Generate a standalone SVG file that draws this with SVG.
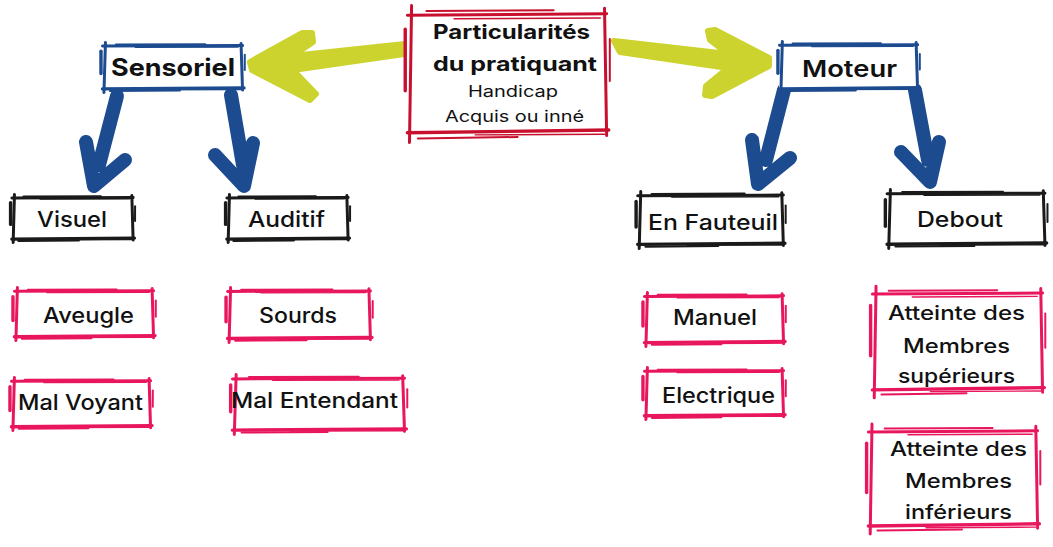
<svg xmlns="http://www.w3.org/2000/svg" xmlns:xlink="http://www.w3.org/1999/xlink" width="1053" height="547" viewBox="0 0 1053 547">
<style>
.sk path{fill:none;stroke:currentColor;stroke-linecap:round;vector-effect:non-scaling-stroke}
.w1{stroke-width:1.4}.w15{stroke-width:2}.w2{stroke-width:3}.w25{stroke-width:3.4}
.bg{fill:#fff}
.red{color:#c8102e}.blue{color:#1d4b8f}.blk{color:#1a1a1a}.pink{color:#e8175d}
text{font-family:Inter,"Noto Sans","Liberation Sans",sans-serif;fill:#111}
.b{font-weight:700}.sb{font-weight:600}.m{font-weight:500}
.green{fill:#cdd32e;stroke:#cdd32e;stroke-width:6;stroke-linejoin:round}
.bl{fill:none;stroke:#1d4b8f;stroke-width:14;stroke-linecap:round;stroke-linejoin:round}
</style>
<defs>
<symbol id="sk" class="sk" viewBox="0 0 100 100" preserveAspectRatio="none" overflow="visible">
<path class="w2" d="M3,8 L97,7"/>
<path class="w15" d="M12,5 L72,4.5"/>
<path class="w1" d="M25,10.5 L94,10"/>
<path class="w25" d="M3,92 L98,90"/>
<path class="w15" d="M8,96 L55,95"/>
<path class="w1" d="M35,93.5 L96,93"/>
<path class="w2" d="M5,1 L4,99"/>
<path class="w25" d="M2,18 L2,62"/>
<path class="w2" d="M96,3 L97,94"/>
<path class="w15" d="M98.5,25 L98.5,55"/>
</symbol>
</defs>
<g id="connectors">
<polygon class="green" points="405,44 292,56 313,42 312,33 302,33 250,62 252,70 310,100 316,94 293,70 404,54"/>
<polygon class="green" points="614,41 728,54 710,40 708,31 715,30 769,58 769,66 712,96 705,95 706,86 728,68 620,52"/>
<path class="bl" d="M117,96 L99,165 M86,142 L94,186 L125,160"/>
<path class="bl" d="M231,95 L243,165 M215,155 L244,186 L253,143"/>
<path class="bl" d="M784,90 L766,160 M752,140 L758,184 L790,158"/>
<path class="bl" d="M915,90 L928,160 M901,152 L930,182 L939,142"/>
</g>
<g id="n-center">
<rect class="bg" x="405" y="9" width="205" height="130"/>
<use href="#sk" class="red" x="401" y="4" width="212" height="140"/>
<text class="b" x="433" y="39" font-size="20" textLength="157" lengthAdjust="spacingAndGlyphs">Particularités</text>
<text class="b" x="433" y="71" font-size="20" textLength="164" lengthAdjust="spacingAndGlyphs">du pratiquant</text>
<text x="468" y="97" font-size="16" textLength="90" lengthAdjust="spacingAndGlyphs">Handicap</text>
<text x="445" y="122" font-size="16" textLength="139" lengthAdjust="spacingAndGlyphs">Acquis ou inné</text>
</g>
<g id="n-sensoriel">
<rect class="bg" x="102" y="47" width="142" height="43"/>
<use href="#sk" class="blue" x="98" y="42" width="149" height="51"/>
<text class="b" x="111" y="76" font-size="24" textLength="124" lengthAdjust="spacingAndGlyphs">Sensoriel</text>
</g>
<g id="n-moteur">
<rect class="bg" x="779" y="46" width="140" height="43"/>
<use href="#sk" class="blue" x="775" y="41" width="147" height="52"/>
<text class="sb" x="802" y="77" font-size="23" textLength="95" lengthAdjust="spacingAndGlyphs">Moteur</text>
</g>
<g id="n-visuel">
<rect class="bg" x="12" y="199" width="122" height="41"/>
<use href="#sk" class="blk" x="8" y="194" width="129" height="49"/>
<text class="m" x="37" y="227" font-size="21" textLength="70" lengthAdjust="spacingAndGlyphs">Visuel</text>
</g>
<g id="n-auditif">
<rect class="bg" x="227" y="199" width="122" height="41"/>
<use href="#sk" class="blk" x="223" y="194" width="129" height="49"/>
<text class="m" x="248" y="227" font-size="21" textLength="77" lengthAdjust="spacingAndGlyphs">Auditif</text>
</g>
<g id="n-fauteuil">
<rect class="bg" x="637" y="196" width="148" height="49"/>
<use href="#sk" class="blk" x="633" y="191" width="155" height="58"/>
<text class="m" x="648" y="230" font-size="21" textLength="130" lengthAdjust="spacingAndGlyphs">En Fauteuil</text>
</g>
<g id="n-debout">
<rect class="bg" x="886" y="194" width="160" height="50"/>
<use href="#sk" class="blk" x="882" y="189" width="168" height="60"/>
<text class="m" x="917" y="227" font-size="21" textLength="86" lengthAdjust="spacingAndGlyphs">Debout</text>
</g>
<g id="n-aveugle">
<rect class="bg" x="14" y="292" width="140" height="44"/>
<use href="#sk" class="pink" x="10" y="287" width="148" height="54"/>
<text class="m" x="43" y="323" font-size="21" textLength="91" lengthAdjust="spacingAndGlyphs">Aveugle</text>
</g>
<g id="n-sourds">
<rect class="bg" x="227" y="292" width="144" height="46"/>
<use href="#sk" class="pink" x="223" y="287" width="152" height="56"/>
<text class="m" x="259" y="323" font-size="21" textLength="78" lengthAdjust="spacingAndGlyphs">Sourds</text>
</g>
<g id="n-malvoyant">
<rect class="bg" x="11" y="382" width="140" height="44"/>
<use href="#sk" class="pink" x="7" y="377" width="148" height="54"/>
<text class="m" x="18" y="410" font-size="21" textLength="125" lengthAdjust="spacingAndGlyphs">Mal Voyant</text>
</g>
<g id="n-malentendant">
<rect class="bg" x="231" y="379" width="175" height="51"/>
<use href="#sk" class="pink" x="227" y="374" width="183" height="61"/>
<text class="m" x="231" y="408" font-size="21" textLength="167" lengthAdjust="spacingAndGlyphs">Mal Entendant</text>
</g>
<g id="n-manuel">
<rect class="bg" x="644" y="297" width="140" height="45"/>
<use href="#sk" class="pink" x="640" y="292" width="148" height="55"/>
<text class="m" x="673" y="325" font-size="21" textLength="84" lengthAdjust="spacingAndGlyphs">Manuel</text>
</g>
<g id="n-electrique">
<rect class="bg" x="644" y="372" width="140" height="43"/>
<use href="#sk" class="pink" x="640" y="367" width="148" height="53"/>
<text class="m" x="662" y="403" font-size="21" textLength="113" lengthAdjust="spacingAndGlyphs">Electrique</text>
</g>
<g id="n-superieurs">
<rect class="bg" x="871" y="291" width="173" height="103"/>
<use href="#sk" class="pink" x="867" y="285" width="181" height="114"/>
<text class="m" x="888" y="320" font-size="20" textLength="137" lengthAdjust="spacingAndGlyphs">Atteinte des</text>
<text class="m" x="903" y="353" font-size="20" textLength="107" lengthAdjust="spacingAndGlyphs">Membres</text>
<text class="m" x="898" y="383" font-size="20" textLength="117" lengthAdjust="spacingAndGlyphs">supérieurs</text>
</g>
<g id="n-inferieurs">
<rect class="bg" x="867" y="429" width="172" height="101"/>
<use href="#sk" class="pink" x="863" y="423" width="180" height="112"/>
<text class="m" x="890" y="456" font-size="20" textLength="137" lengthAdjust="spacingAndGlyphs">Atteinte des</text>
<text class="m" x="905" y="488" font-size="20" textLength="107" lengthAdjust="spacingAndGlyphs">Membres</text>
<text class="m" x="905" y="519" font-size="20" textLength="107" lengthAdjust="spacingAndGlyphs">inférieurs</text>
</g>
</svg>
